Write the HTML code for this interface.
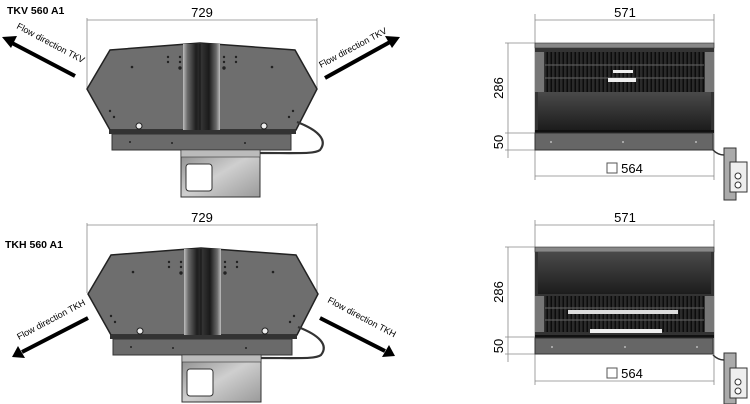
<!DOCTYPE html>
<html><head><meta charset="utf-8"><style>
html,body{margin:0;padding:0;background:#fff;}
svg{display:block;font-family:"Liberation Sans",sans-serif;}
</style></head><body>
<svg width="750" height="404" viewBox="0 0 750 404" xmlns="http://www.w3.org/2000/svg">
<defs>
<linearGradient id="band" x1="0" x2="1" y1="0" y2="0">
<stop offset="0" stop-color="#bdbdbd"/><stop offset="0.12" stop-color="#6a6a6a"/><stop offset="0.35" stop-color="#1e1e1e"/><stop offset="0.5" stop-color="#333"/><stop offset="0.7" stop-color="#1a1a1a"/><stop offset="0.9" stop-color="#6a6a6a"/><stop offset="1" stop-color="#bdbdbd"/>
</linearGradient>
<linearGradient id="brk" x1="0" x2="1" y1="0" y2="1">
<stop offset="0" stop-color="#8a8a8a"/><stop offset="0.5" stop-color="#cfcfcf"/><stop offset="1" stop-color="#9a9a9a"/>
</linearGradient>
<linearGradient id="panel" x1="0" x2="0" y1="0" y2="1">
<stop offset="0" stop-color="#4a4a4a"/><stop offset="1" stop-color="#1c1c1c"/>
</linearGradient>
<pattern id="grille" width="4" height="40" patternUnits="userSpaceOnUse">
<rect width="4" height="40" fill="#2a2a2a"/><rect x="2.5" width="1.5" height="40" fill="#0c0c0c"/>
</pattern>
<g id="fan">
<polygon points="87,89 110,50 200,43 295,50 317,89 296,130 110,130" fill="#6e6e6e" stroke="#222" stroke-width="1.5"/>
<rect x="183" y="44" width="37" height="86" fill="url(#band)"/>
<line x1="200" y1="44" x2="200" y2="130" stroke="#111" stroke-width="0.8"/>
<rect x="109" y="130" width="187" height="4" fill="#333"/>
<rect x="112" y="134" width="179" height="16" fill="#6a6a6a" stroke="#333"/>
<g fill="#222"><circle cx="132" cy="67" r="1.3"/><circle cx="168" cy="57" r="1.2"/><circle cx="180" cy="57" r="1.2"/><circle cx="168" cy="62" r="1.2"/><circle cx="180" cy="62" r="1.2"/><circle cx="180" cy="68" r="1.7"/><circle cx="224" cy="57" r="1.2"/><circle cx="236" cy="57" r="1.2"/><circle cx="224" cy="62" r="1.2"/><circle cx="236" cy="62" r="1.2"/><circle cx="224" cy="68" r="1.7"/><circle cx="272" cy="67" r="1.3"/><circle cx="110" cy="111" r="1.2"/><circle cx="114" cy="117" r="1.2"/><circle cx="293" cy="111" r="1.2"/><circle cx="289" cy="117" r="1.2"/><circle cx="130" cy="142" r="1"/><circle cx="172" cy="143" r="1"/><circle cx="245" cy="143" r="1"/></g>
<circle cx="139" cy="126" r="3" fill="#eee" stroke="#222"/><circle cx="264" cy="126" r="3" fill="#eee" stroke="#222"/>
<path d="M297,122 C318,130 328,140 320,150 C315,154 300,153 260,153" fill="none" stroke="#333" stroke-width="2.2"/>
<rect x="181" y="150" width="79" height="47" fill="url(#brk)" stroke="#333"/>
<rect x="181" y="150" width="79" height="7" fill="#bbb" stroke="#333" stroke-width="0.6"/>
<rect x="186" y="164" width="26" height="27" rx="3" fill="#fff" stroke="#333"/>
</g>
</defs>
<g stroke="#888" stroke-width="0.8" fill="none">
<line x1="87" y1="18" x2="87" y2="88"/><line x1="317" y1="18" x2="317" y2="88"/><line x1="87" y1="20" x2="317" y2="20"/>
<line x1="87" y1="223" x2="87" y2="293"/><line x1="317" y1="223" x2="317" y2="293"/><line x1="87" y1="225" x2="317" y2="225"/>
<line x1="535" y1="14" x2="535" y2="180"/><line x1="714" y1="14" x2="714" y2="180"/><line x1="535" y1="20" x2="714" y2="20"/><line x1="535" y1="176" x2="714" y2="176"/>
<line x1="505" y1="43" x2="535" y2="43"/><line x1="505" y1="133" x2="535" y2="133"/><line x1="505" y1="150" x2="535" y2="150"/><line x1="508" y1="43" x2="508" y2="158"/>
<line x1="535" y1="220" x2="535" y2="385"/><line x1="714" y1="220" x2="714" y2="385"/><line x1="535" y1="225" x2="714" y2="225"/><line x1="535" y1="381" x2="714" y2="381"/>
<line x1="505" y1="247" x2="535" y2="247"/><line x1="505" y1="337" x2="535" y2="337"/><line x1="505" y1="354" x2="535" y2="354"/><line x1="508" y1="247" x2="508" y2="362"/>
</g>
<g fill="#000" font-size="13" text-anchor="middle">
<text x="202" y="17">729</text><text x="202" y="222">729</text>
<text x="625" y="17">571</text><text x="625" y="222">571</text>
<text x="632" y="173">564</text><text x="632" y="378">564</text>
<text transform="translate(503,88) rotate(-90)">286</text><text transform="translate(503,142) rotate(-90)">50</text>
<text transform="translate(503,292) rotate(-90)">286</text><text transform="translate(503,346) rotate(-90)">50</text>
</g>
<rect x="607" y="163" width="10" height="10" fill="none" stroke="#555"/><rect x="607" y="368" width="10" height="10" fill="none" stroke="#555"/>
<g font-size="10.5" font-weight="bold"><text x="7" y="14">TKV 560 A1</text><text x="5" y="248">TKH 560 A1</text></g>
<use href="#fan"/>
<use href="#fan" transform="translate(1,205)"/>
<g stroke="#000" stroke-width="4"><line x1="75" y1="76" x2="12" y2="43"/><line x1="325" y1="78" x2="390" y2="42"/><line x1="88" y1="318" x2="22" y2="352"/><line x1="320" y1="318" x2="385" y2="351"/></g>
<g fill="#000"><polygon points="2,37 17,36 11,48"/><polygon points="400,37 385,36 392,48"/><polygon points="12,357 18,346 25,358"/><polygon points="395,356 389,345 382,357"/></g>
<g font-size="9" fill="#000">
<text transform="translate(16,28) rotate(28)">Flow direction TKV</text>
<text transform="translate(321,68) rotate(-28)">Flow direction TKV</text>
<text transform="translate(19,340) rotate(-28)">Flow direction TKH</text>
<text transform="translate(327,302) rotate(28)">Flow direction TKH</text>
</g>
<rect x="535" y="43" width="179" height="5" fill="#888" stroke="#333" stroke-width="0.6"/>
<rect x="535" y="48" width="179" height="82" fill="#333"/>
<rect x="545" y="52" width="159" height="40" fill="url(#grille)"/>
<line x1="545" y1="65" x2="704" y2="65" stroke="#666"/><line x1="545" y1="78" x2="704" y2="78" stroke="#666"/>
<rect x="535" y="52" width="9" height="40" fill="#777"/><rect x="705" y="52" width="9" height="40" fill="#777"/>
<rect x="538" y="92" width="173" height="38" fill="url(#panel)"/>
<rect x="613" y="70" width="20" height="3" fill="#eee"/><rect x="608" y="78" width="28" height="4" fill="#eee"/>
<rect x="535" y="130" width="179" height="3" fill="#111"/>
<rect x="535" y="133" width="178" height="17" fill="#666" stroke="#333"/>
<rect x="535" y="247" width="179" height="5" fill="#888" stroke="#333" stroke-width="0.6"/>
<rect x="535" y="252" width="179" height="83" fill="#333"/>
<rect x="538" y="252" width="173" height="42" fill="url(#panel)"/>
<rect x="545" y="296" width="159" height="36" fill="url(#grille)"/>
<line x1="545" y1="308" x2="704" y2="308" stroke="#666"/><line x1="545" y1="320" x2="704" y2="320" stroke="#666"/>
<rect x="535" y="296" width="9" height="36" fill="#777"/><rect x="705" y="296" width="9" height="36" fill="#777"/>
<rect x="568" y="310" width="110" height="4" fill="#ddd"/><rect x="590" y="329" width="72" height="4" fill="#eee"/>
<rect x="535" y="335" width="179" height="3" fill="#111"/>
<rect x="535" y="338" width="178" height="16" fill="#666" stroke="#333"/>
<g fill="#bbb"><circle cx="551" cy="142" r="1"/><circle cx="623" cy="142" r="1"/><circle cx="696" cy="142" r="1"/><circle cx="552" cy="347" r="1"/><circle cx="625" cy="347" r="1"/><circle cx="697" cy="347" r="1"/></g>
<g fill="#fff" stroke="#333">
<path d="M713,150 C716,153 720,155 724,155" fill="none" stroke-width="1.5"/>
<rect x="724" y="148" width="12" height="52" fill="#aaa"/><rect x="730" y="162" width="17" height="30" fill="#eee"/>
<circle cx="738" cy="176" r="3"/><circle cx="738" cy="185" r="3"/>
<path d="M713,355 C716,358 720,360 724,360" fill="none" stroke-width="1.5"/>
<rect x="724" y="353" width="12" height="51" fill="#aaa"/><rect x="730" y="368" width="17" height="30" fill="#eee"/>
<circle cx="738" cy="382" r="3"/><circle cx="738" cy="391" r="3"/>
</g>
</svg>
</body></html>
